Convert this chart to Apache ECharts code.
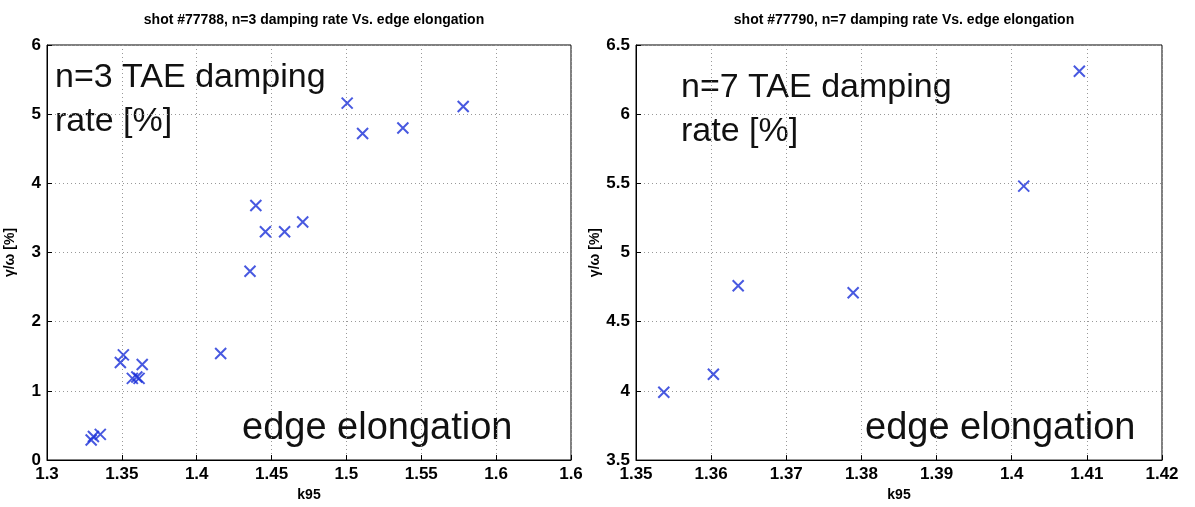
<!DOCTYPE html>
<html>
<head>
<meta charset="UTF-8">
<script src="https://cdn.jsdelivr.net/npm/echarts@6/dist/echarts.min.js"></script>
</head>
<body style="margin:0;background:#fff;">
<div id="main" style="width:1195px;height:507px;"></div>
<script>
    // n=3 shot #77788
    var k95_n3 = [1.3295, 1.331, 1.3356, 1.349, 1.351, 1.357, 1.360, 1.3615, 1.3636, 1.416, 1.4356, 1.4395, 1.4459, 1.4587, 1.4708, 1.5005, 1.5108, 1.5377, 1.578];
    var rate_n3 = [0.29, 0.34, 0.37, 1.41, 1.52, 1.18, 1.20, 1.18, 1.38, 1.54, 2.73, 3.68, 3.30, 3.30, 3.44, 5.16, 4.72, 4.80, 5.11];
    // n=7 shot #77790
    var k95_n7 = [1.3537, 1.3603, 1.3636, 1.3789, 1.4016, 1.4090];
    var rate_n7 = [3.99, 4.12, 4.76, 4.71, 5.48, 6.31];

    function pairs(xs, ys) {
        var out = [];
        for (var i = 0; i < xs.length; i++) out.push([xs[i], ys[i]]);
        return out;
    }

    var font = 'Liberation Sans';
    var cross = 'path://M0,0L10,10M10,0L0,10';
    var gridLine = {show: true, lineStyle: {color: '#999', type: [1, 3], width: 1}};
    var axisLbl = {color: '#000', fontFamily: font, fontWeight: 'bold', fontSize: 17};

    function xAxis(idx, min, max, interval, fmt) {
        return {
            type: 'value', gridIndex: idx, min: min, max: max, interval: interval,
            name: 'k95', nameLocation: 'middle', nameGap: 27,
            nameTextStyle: {color: '#000', fontFamily: font, fontWeight: 'bold', fontSize: 14},
            axisLine: {lineStyle: {color: '#000'}}, axisTick: {inside: true, length: 5, lineStyle: {color: '#000'}},
            axisLabel: Object.assign({formatter: fmt, margin: 6}, axisLbl),
            splitLine: gridLine
        };
    }
    function yAxis(idx, min, max, interval) {
        return {
            type: 'value', gridIndex: idx, min: min, max: max, interval: interval,
            name: 'γ/ω [%]', nameLocation: 'middle', nameGap: 30,
            nameTextStyle: {color: '#000', fontFamily: font, fontWeight: 'bold', fontSize: 14},
            axisLine: {lineStyle: {color: '#000'}}, axisTick: {inside: true, length: 5, lineStyle: {color: '#000'}},
            axisLabel: Object.assign({margin: 6}, axisLbl),
            splitLine: gridLine
        };
    }
    var marker = {
        type: 'scatter', symbol: cross, symbolSize: 11,
        itemStyle: {color: 'transparent', borderColor: '#1a30d8', borderWidth: 2}
    };

    var chart = echarts.init(document.getElementById('main'));
    chart.setOption({
        backgroundColor: '#fff',
        animation: false,
        title: [
            {text: 'shot #77788, n=3 damping rate Vs. edge elongation', left: 309, top: 8, textAlign: 'center',
             textStyle: {fontFamily: font, fontWeight: 'bold', fontSize: 14, color: '#000'}},
            {text: 'shot #77790, n=7 damping rate Vs. edge elongation', left: 899, top: 8, textAlign: 'center',
             textStyle: {fontFamily: font, fontWeight: 'bold', fontSize: 14, color: '#000'}}
        ],
        grid: [
            {left: 47, right: 624, top: 45, bottom: 47, show: true, borderColor: '#000', borderWidth: 1},
            {left: 636, right: 33, top: 45, bottom: 45, show: true, borderColor: '#000', borderWidth: 1}
        ],
        xAxis: [
            xAxis(0, 1.3, 1.65, 0.05, function (v) { return v > 1.64 ? '1.6' : +v.toFixed(2); }),
            xAxis(1, 1.35, 1.42, 0.01, function (v) { return +v.toFixed(2); })
        ],
        yAxis: [
            yAxis(0, 0, 6, 1),
            yAxis(1, 3.5, 6.5, 0.5)
        ],
        graphic: [
            {type: 'text', left: 55, top: 56, style: {text: 'n=3 TAE damping\nrate [%]', font: '34px "Liberation Sans"', lineHeight: 44, fill: '#111'}},
            {type: 'text', left: 242, top: 410, style: {text: 'edge elongation', font: '38px "Liberation Sans"', fill: '#111'}},
            {type: 'text', left: 681, top: 66, style: {text: 'n=7 TAE damping\nrate [%]', font: '34px "Liberation Sans"', lineHeight: 44, fill: '#111'}},
            {type: 'text', left: 865, top: 410, style: {text: 'edge elongation', font: '38px "Liberation Sans"', fill: '#111'}}
        ],
        series: [
            Object.assign({xAxisIndex: 0, yAxisIndex: 0, data: pairs(k95_n3, rate_n3)}, marker),
            Object.assign({xAxisIndex: 1, yAxisIndex: 1, data: pairs(k95_n7, rate_n7)}, marker)
        ]
    });
</script>
</body>
</html>
